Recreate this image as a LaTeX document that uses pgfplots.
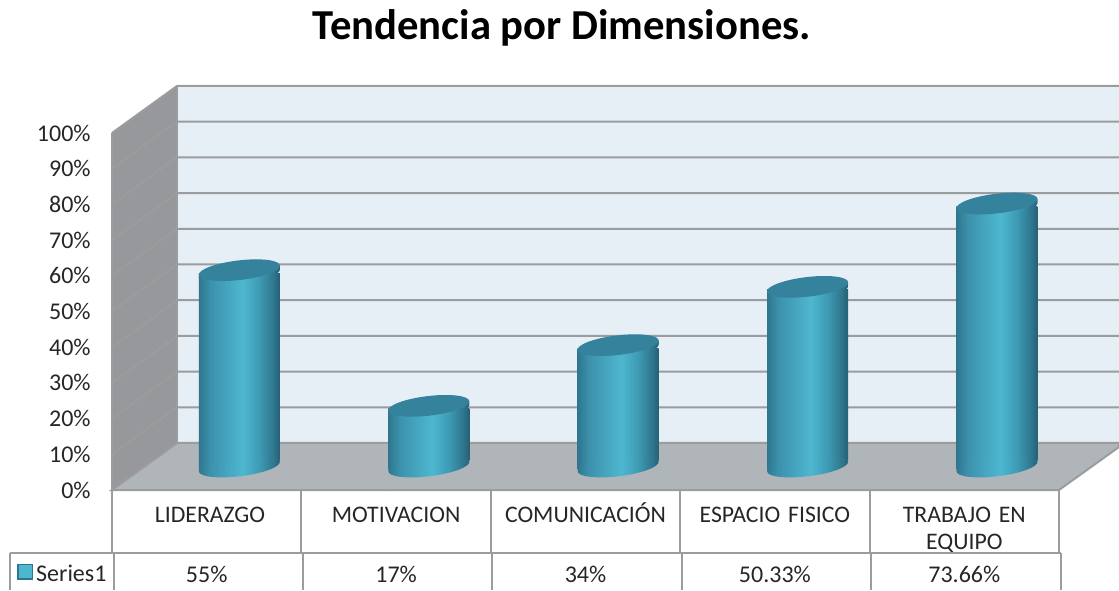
\documentclass[border=0pt]{standalone}
\usepackage{pgfplots}
\pgfplotsset{compat=1.18}
\usepackage{fontspec}
\usetikzlibrary{shapes.geometric}
\setmainfont{Carlito}
\definecolor{wallL}{RGB}{150,152,155}
\definecolor{wallB}{RGB}{230,238,246}
\definecolor{floorC}{RGB}{176,181,185}
\definecolor{gridC}{RGB}{154,156,158}
\definecolor{cylTop}{RGB}{53,130,156}
\definecolor{cylLight}{RGB}{78,183,208}
\definecolor{cylMid}{RGB}{60,145,172}
\definecolor{cylMidR}{RGB}{62,155,180}
\definecolor{cylEdge}{RGB}{46,118,142}
\definecolor{cylDark}{RGB}{38,96,116}
\definecolor{txt}{RGB}{38,38,38}
\pgfdeclarehorizontalshading{cylbody}{100bp}{color(0bp)=(cylEdge); color(25bp)=(cylEdge); color(32bp)=(cylMid); color(52bp)=(cylLight); color(62bp)=(cylMidR); color(71bp)=(cylEdge); color(75bp)=(cylDark); color(100bp)=(cylDark)}
\pgfdeclareplotmark{cyltop}{\pgfpathellipse{\pgfpointorigin}{\pgfqpoint{30.4pt}{3.6pt}}{\pgfqpoint{-0.9pt}{7.3pt}}\pgfusepathqfill}
\pgfplotstableread{
x y
0 55
1 17
2 34
3 50.33
4 73.66
}\datatab
\pgfplotstableread{
x y
0 0
1 0
2 0
3 0
4 0
}\basetab
\pgfplotsset{
  cylell/.style={forget plot, draw=none, mark=none, nodes near coords={},
    every node near coord/.style={anchor=center, ellipse, inner sep=0pt, minimum width=61.2pt, minimum height=14.6pt, rotate=7, shade, shading=cylbody, draw=none}},
  flooring/.style={forget plot, draw=none, mark=none, nodes near coords={},
    every node near coord/.style={anchor=north, rectangle, inner sep=0pt, minimum width=66pt, minimum height=14pt, rotate=7, fill=floorC, draw=none}},
  body/.style={forget plot, ybar, bar width=60.75pt, bar shift=0pt, shade, shading=cylbody, draw=none, xshift=24.5pt, yshift=15.35pt},
}
\begin{document}
\begin{tikzpicture}
\path[use as bounding box] (0,0) rectangle (839.25pt,442.5pt);
\begin{axis}[
  at={(84pt,75pt)}, anchor=south west, scale only axis,
  width=710.25pt, height=267.75pt,
  xmin=-0.5, xmax=4.5, ymin=0, ymax=100, clip=false,
  axis line style={draw=none}, major tick length=0pt,
  ytick={0,10,...,100},
  /pgf/number format/assume math mode=true,
  yticklabel={\pgfmathprintnumber{\tick}\%},
  xtick={0,1,2,3,4},
  xticklabels={\hspace*{5pt}LIDERAZGO,MOTIVACION,COMUNICACIÓN,ESPACIO FISICO,{TRABAJO EN\\EQUIPO}},
  tick label style={font=\fontsize{18}{20.3}\selectfont, text=txt},
  yticklabel style={xshift=-12.5pt},
  xticklabel style={font=\fontsize{17.8}{20.3}\selectfont, align=center, text width=140pt, anchor=north, yshift=-8pt, text height=13pt, text depth=0pt},
  title={Tendencia por Dimensiones.},
  title style={at={(0.475,1.272)}, anchor=center, font=\fontsize{32}{36}\bfseries\selectfont, text=black},
  legend style={at={(axis cs:-0.515,-23.6)}, anchor=east, draw=none, fill=none, inner sep=0pt, outer sep=0pt,
    font=\fontsize{18}{20.3}\selectfont, text=txt, legend cell align=left},
]
% side wall, back wall
\addplot[forget plot, fill=wallL, draw=none] coordinates {(-0.5,0) (-0.1568,13.17) (-0.1568,113.17) (-0.5,100)} --cycle;
\addplot[forget plot, fill=wallB, draw=none] coordinates {(-0.1568,13.17) (4.817,13.17) (4.817,113.17) (-0.1568,113.17)} --cycle;
% gridlines
\pgfplotsinvokeforeach{10,20,...,100}{
  \addplot[forget plot, gridC, line width=1.5pt] coordinates {(-0.5,#1) (-0.1568,13.17+#1) (4.817,13.17+#1)};
}
\addplot[forget plot, gridC, line width=1pt] coordinates {(-0.5,0) (-0.5,100)};
\addplot[forget plot, gridC, line width=1pt] coordinates {(-0.1568,13.17) (-0.1568,113.17)};
% floor
\addplot[forget plot, fill=floorC, draw=gridC, line width=1.5pt] coordinates {(-0.5,0) (-0.1568,13.17) (4.817,13.17) (4.817,12.05) (4.5,0)} --cycle;
% bars
\addplot[body] coordinates {(0,55)};
\addplot[body] coordinates {(1,17)};
\addplot[body] coordinates {(2,34)};
\addplot[body] coordinates {(3,50.33)};
\addplot[body] coordinates {(4,73.66)};
% trim the square foot of each body, then the rounded base
\addplot[flooring, xshift=24.5pt, yshift=18.6pt] table[x=x,y=y] {\basetab};
\addplot[cylell, xshift=24.5pt, yshift=17.6pt] table[x=x,y=y] {\basetab};
% rounded shoulder under the top cap
\addplot[cylell, xshift=24.5pt, yshift=14.6pt] table[x=x,y=y] {\datatab};
\addplot[cylell, xshift=24.5pt, yshift=15.2pt] table[x=x,y=y] {\datatab};
\addplot[cylell, xshift=24.5pt, yshift=15.8pt] table[x=x,y=y] {\datatab};
\addplot[cylell, xshift=24.5pt, yshift=16.4pt] table[x=x,y=y] {\datatab};
\addplot[cylell, xshift=24.5pt, yshift=17.0pt] table[x=x,y=y] {\datatab};
\addplot[forget plot, only marks, mark=cyltop, mark options={fill=cylTop, draw=none}, xshift=24.5pt, yshift=17.6pt] table[x=x,y=y] {\datatab};
% data table
\addplot[forget plot, gridC, line width=1.5pt] coordinates {(-0.5,0) (4.5,0)};
\addplot[forget plot, gridC, line width=1.5pt] coordinates {(-1.0385,-17.65) (4.51,-17.65)};
\pgfplotsinvokeforeach{-0.5,0.5,1.5,2.5,3.5,4.5}{
  \addplot[forget plot, gridC, line width=1.5pt] coordinates {(#1,0) (#1,-17.65)};
  \addplot[forget plot, gridC, line width=1.5pt] coordinates {(#1+0.008,-17.65) (#1+0.008,-28)};
}
\addplot[forget plot, gridC, line width=1.5pt] coordinates {(-1.0385,-17.65) (-1.0385,-28)};
\node[font=\fontsize{18}{20.3}\selectfont, text=txt] at (axis cs:0,-23.6) {55\%};
\node[font=\fontsize{18}{20.3}\selectfont, text=txt] at (axis cs:1,-23.6) {17\%};
\node[font=\fontsize{18}{20.3}\selectfont, text=txt] at (axis cs:2,-23.6) {34\%};
\node[font=\fontsize{18}{20.3}\selectfont, text=txt] at (axis cs:3,-23.6) {50.33\%};
\node[font=\fontsize{18}{20.3}\selectfont, text=txt] at (axis cs:4,-23.6) {73.66\%};
\addlegendimage{legend image code/.code={\draw[fill=cylLight, draw=cylEdge, line width=1pt] (0pt,-3.5pt) rectangle (11pt,7.5pt);}}
\addlegendentry{Series1}
\end{axis}
\end{tikzpicture}
\end{document}
